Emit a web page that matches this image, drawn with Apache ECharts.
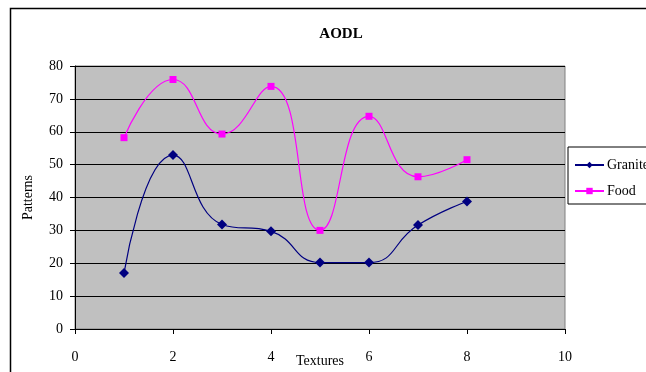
<!DOCTYPE html>
<html>
<head>
<meta charset="utf-8">
<script src="https://cdn.jsdelivr.net/npm/echarts@6/dist/echarts.min.js"></script>
<style>
  html, body { margin: 0; padding: 0; background: #fff; }
  #chart { width: 646px; height: 372px; }
</style>
</head>
<body>
<div id="chart"></div>
<script>
// Texture index along the x axis
const textures = [1, 2, 3, 4, 5, 6, 7, 8];
// Pattern counts per series
const granite = [17.0, 52.9, 31.8, 29.7, 20.2, 20.2, 31.6, 38.8];
const food = [58.2, 75.9, 59.3, 73.8, 30.0, 64.7, 46.3, 51.5];

const FONT = '"Liberation Serif", "Times New Roman", serif';

const pairs = (xs, ys) => xs.map((x, i) => [x, ys[i]]);

const chart = echarts.init(document.getElementById('chart'), null, { renderer: 'canvas' });

chart.setOption({
  animation: false,
  backgroundColor: '#ffffff',
  textStyle: { fontFamily: FONT, color: '#000' },
  title: {
    text: 'AODL',
    left: 336,
    top: 22,
    textAlign: 'center',
    textStyle: { fontFamily: FONT, fontSize: 15, fontWeight: 'bold', color: '#000' }
  },
  graphic: [{
    type: 'rect',
    shape: { x: 10.5, y: 8.5, width: 700, height: 400 },
    style: { fill: 'none', stroke: '#000', lineWidth: 1.5 },
    silent: true,
    z: 100
  }],
  legend: {
    orient: 'vertical',
    left: 568,
    top: 147,
    padding: [11, 6, 6, 6],
    itemGap: 12,
    itemWidth: 29,
    itemHeight: 8,
    borderColor: '#000',
    borderWidth: 1,
    backgroundColor: '#ffffff',
    textStyle: { fontFamily: FONT, fontSize: 14, color: '#000', padding: [0, 0, 0, -2] },
    data: ['Granite', 'Food']
  },
  grid: {
    left: 75,
    right: 81,
    top: 66,
    bottom: 43,
    outerBoundsMode: 'none',
    containLabel: false,
    show: true,
    backgroundColor: '#c0c0c0',
    borderColor: '#808080',
    borderWidth: 1
  },
  xAxis: {
    type: 'value',
    min: 0,
    max: 10,
    interval: 2,
    name: 'Textures',
    nameLocation: 'middle',
    nameGap: 25,
    nameMoveOverlap: false,
    nameTextStyle: { fontFamily: FONT, fontSize: 14, color: '#000' },
    axisLine: { show: true, onZero: false, lineStyle: { color: '#000', width: 1 } },
    axisTick: { show: true, inside: false, length: 5, lineStyle: { color: '#000' } },
    axisLabel: { fontFamily: FONT, fontSize: 14, color: '#000', margin: 21 },
    splitLine: { show: false }
  },
  yAxis: {
    type: 'value',
    min: 0,
    max: 80,
    interval: 10,
    name: 'Patterns',
    nameLocation: 'middle',
    nameRotate: 90,
    nameGap: 40,
    nameMoveOverlap: false,
    nameTextStyle: { fontFamily: FONT, fontSize: 14, color: '#000' },
    axisLine: { show: true, lineStyle: { color: '#000', width: 1 } },
    axisTick: { show: true, inside: false, length: 5, lineStyle: { color: '#000' } },
    axisLabel: { fontFamily: FONT, fontSize: 14, color: '#000', margin: 12 },
    splitLine: { show: true, lineStyle: { color: '#000', width: 1 } }
  },
  series: [
    {
      name: 'Granite',
      type: 'line',
      data: pairs(textures, granite),
      smooth: 0.5,
      symbol: 'diamond',
      symbolSize: 10,
      lineStyle: { color: '#000080', width: 1.2 },
      itemStyle: { color: '#000080' },
      z: 3
    },
    {
      name: 'Food',
      type: 'line',
      data: pairs(textures, food),
      smooth: 0.5,
      symbol: 'rect',
      symbolSize: 7,
      lineStyle: { color: '#ff00ff', width: 1.2 },
      itemStyle: { color: '#ff00ff' },
      z: 3
    }
  ]
});
</script>
</body>
</html>
